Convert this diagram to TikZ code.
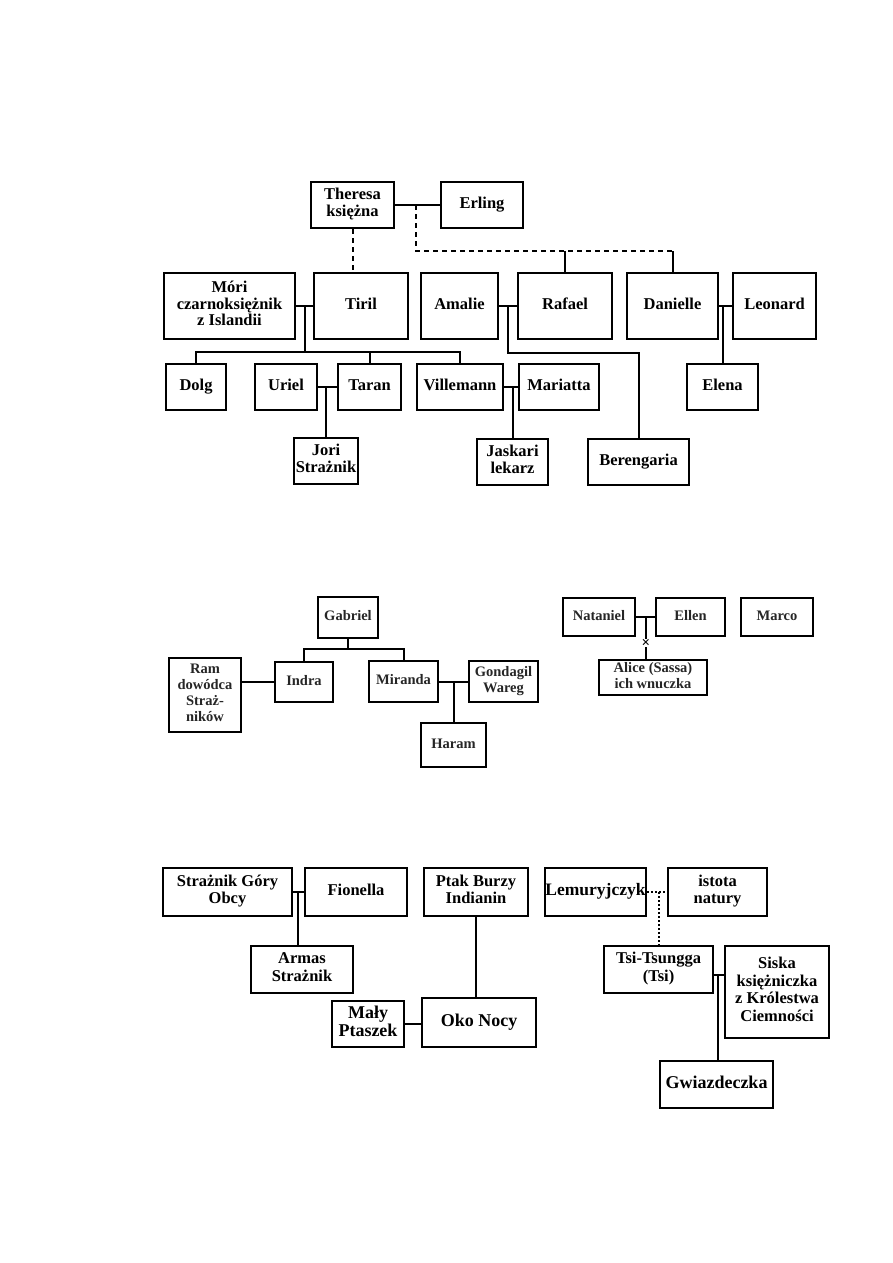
\documentclass[tikz,border=0pt]{standalone}
\usepackage{fontspec}
\setmainfont{Liberation Serif}
\usepackage{tikz}
\usetikzlibrary{positioning,calc}
\tikzstyle{osoba}  = [rectangle, draw, line width=2.1pt, align=center, inner sep=1pt,
                      execute at begin node=\strut, execute at end node=\strut,
                      font=\bfseries\fontsize{16.5}{16.7}\selectfont]
\tikzstyle{osobaM} = [osoba, text=black!85, font=\bfseries\fontsize{14.5}{16}\selectfont]
\tikzstyle{osobaB} = [osoba, font=\bfseries\fontsize{16.5}{17.5}\selectfont]
\tikzstyle{osobaG} = [osoba, line width=2.8pt, font=\bfseries\fontsize{18}{18.5}\selectfont]
\tikzstyle{wiez}      = [line width=2pt]
\tikzstyle{nieslubne} = [line width=2pt, dash pattern=on 5pt off 4pt]
\tikzstyle{kropki}    = [line width=2pt, dash pattern=on 1.5pt off 2.5pt]
\tikzstyle{krzyzyk}   = [fill=white, inner sep=0pt, font=\bfseries\fontsize{15}{15}\selectfont]

\begin{document}
\begin{tikzpicture}[x=1pt, y=-1pt]
  \useasboundingbox[fill=white] (0,0) rectangle (893,1263);

  % --- top tree
  \node[osoba, minimum width=83,  minimum height=46] (theresa)    at (352.5,205) {Theresa\\księżna};
  \node[osoba, minimum width=82,  minimum height=46] (erling)     at (482,205)   {Erling};
  \node[osoba, minimum width=131, minimum height=66] (mori)       at (229.5,306) {Móri\\czarnoksiężnik\\z Islandii};
  \node[osoba, minimum width=94,  minimum height=66] (tiril)      at (361,306)   {Tiril};
  \node[osoba, minimum width=77,  minimum height=66] (amalie)     at (459.5,306) {Amalie};
  \node[osoba, minimum width=94,  minimum height=66] (rafael)     at (565,306)   {Rafael};
  \node[osoba, minimum width=91,  minimum height=66] (danielle)   at (672.5,306) {Danielle};
  \node[osoba, minimum width=83,  minimum height=66] (leonard)    at (774.5,306) {Leonard};
  \node[osoba, minimum width=60,  minimum height=46] (dolg)       at (196,387)   {Dolg};
  \node[osoba, minimum width=62,  minimum height=46] (uriel)      at (286,387)   {Uriel};
  \node[osoba, minimum width=63,  minimum height=46] (taran)      at (369.5,387) {Taran};
  \node[osoba, minimum width=86,  minimum height=46] (villemann)  at (460,387)   {Villemann};
  \node[osoba, minimum width=80,  minimum height=46] (mariatta)   at (559,387)   {Mariatta};
  \node[osoba, minimum width=71,  minimum height=46] (elena)      at (722.5,387) {Elena};
  \node[osoba, minimum width=64,  minimum height=46] (jori)       at (326,461)   {Jori\\Strażnik};
  \node[osoba, minimum width=71,  minimum height=46] (jaskari)    at (512.5,462) {Jaskari\\lekarz};
  \node[osoba, minimum width=101, minimum height=46] (berengaria) at (638.5,462) {Berengaria};

  \coordinate (te)  at (416,205);
  \coordinate (te2) at (416,251);
  \draw[wiez] (theresa) -- (erling);
  \draw[nieslubne] (te) -- (te2) -- (te2 -| danielle.north);
  \draw[wiez] (te2 -| rafael.north) -- (rafael.north);
  \draw[wiez] (te2 -| danielle.north) -- (danielle.north);
  \draw[nieslubne] (theresa.south) -- (theresa.south |- tiril.north);

  \coordinate (mt)     at (305,306);
  \coordinate (dzieci) at (305,352);
  \draw[wiez] (mori) -- (tiril);
  \draw[wiez] (mt) -- (dzieci);
  \draw[wiez] (dolg.north) -- (dolg.north |- dzieci) -- (villemann.north |- dzieci) -- (villemann.north);
  \draw[wiez] (taran.north) -- (taran.north |- dzieci);
  \draw[wiez] (uriel) -- (taran);
  \draw[wiez] (jori.north |- uriel) -- (jori.north);
  \draw[wiez] (villemann) -- (mariatta);
  \draw[wiez] (jaskari.north |- villemann) -- (jaskari.north);

  \coordinate (ar)  at (508,306);
  \coordinate (ar2) at (508,353);
  \draw[wiez] (amalie) -- (rafael);
  \draw[wiez] (ar) -- (ar2) -- (ar2 -| berengaria.north) -- (berengaria.north);
  \draw[wiez] (danielle) -- (leonard);
  \draw[wiez] (elena.north |- danielle) -- (elena.north);

  % --- middle trees
  \node[osobaM, minimum width=60,  minimum height=41] (gabriel)  at (348,617.5)   {Gabriel};
  \node[osobaM, minimum width=58,  minimum height=40] (indra)    at (304,682)     {Indra};
  \node[osobaM, minimum width=69,  minimum height=41] (miranda)  at (403.5,681.5) {Miranda};
  \node[osobaM, minimum width=72,  minimum height=74] (ram)      at (205,695)     {Ram\\dowódca\\Straż-\\ników};
  \node[osobaM, minimum width=69,  minimum height=41] (gondagil) at (503.5,681.5) {Gondagil\\Wareg};
  \node[osobaM, minimum width=65,  minimum height=44] (haram)    at (453.5,745)   {Haram};
  \node[osobaM, minimum width=72,  minimum height=38] (nataniel) at (599,617)     {Nataniel};
  \node[osobaM, minimum width=69,  minimum height=38] (ellen)    at (690.5,617)   {Ellen};
  \node[osobaM, minimum width=72,  minimum height=38] (marco)    at (777,617)     {Marco};
  \node[osobaM, minimum width=108, minimum height=35] (alice)    at (653,677.5)   {Alice (Sassa)\\ich wnuczka};

  \coordinate (gab) at (348,649);
  \draw[wiez] (gabriel.south) -- (gab);
  \draw[wiez] (indra.north) -- (indra.north |- gab) -- (miranda.north |- gab) -- (miranda.north);
  \draw[wiez] (ram.east |- indra.west) -- (indra.west);
  \draw[wiez] (miranda) -- (gondagil);
  \draw[wiez] (haram.north |- miranda) -- (haram.north);

  \coordinate (ne) at (646,617);
  \draw[wiez] (nataniel) -- (ellen);
  \draw[wiez] (ne) -- (ne |- alice.north);
  \node[krzyzyk] (x) at (646,643) {×};

  % --- bottom trees
  \node[osobaB, minimum width=129, minimum height=48] (straznik) at (227.5,892)  {Strażnik Góry\\Obcy};
  \node[osobaB, minimum width=102, minimum height=48] (fionella) at (356,892)    {Fionella};
  \node[osobaB, minimum width=102, minimum height=47] (armas)    at (302,969.5)  {Armas\\Strażnik};
  \node[osobaB, minimum width=104, minimum height=48] (ptak)     at (476,892)    {Ptak Burzy\\Indianin};
  \node[osobaG, minimum width=114, minimum height=49] (oko)      at (479,1022.5) {Oko Nocy};
  \node[osobaG, minimum width=72,  minimum height=46] (maly)     at (368,1024)   {Mały\\Ptaszek};
  \node[osobaB, minimum width=101, minimum height=48, inner sep=0pt,
        font=\bfseries\fontsize{17.5}{18}\selectfont] (lemur)    at (595.5,892)  {Lemuryjczyk};
  \node[osobaB, minimum width=99,  minimum height=48] (istota)   at (717.5,892)  {istota\\natury};
  \node[osobaB, minimum width=109, minimum height=47] (tsi)      at (658.5,969.5){Tsi-Tsungga\\(Tsi)};
  \node[osobaB, minimum width=104, minimum height=92] (siska)    at (777,992)    {Siska\\księżniczka\\z Królestwa\\Ciemności};
  \node[osobaG, minimum width=113, minimum height=47] (gwiazd)   at (716.5,1084.5) {Gwiazdeczka};

  \coordinate (sf) at (298,892);
  \draw[wiez] (straznik) -- (fionella);
  \draw[wiez] (sf) -- (sf |- armas.north);
  \draw[wiez] (ptak.south) -- (ptak.south |- oko.north);
  \draw[wiez] (maly.east) -- (maly.east -| oko.west);

  \coordinate (ts) at (718,975);
  \draw[kropki] (lemur) -- (istota);
  \draw[kropki] (tsi.north |- lemur) -- (tsi.north);
  \draw[wiez] (tsi.east |- ts) -- (siska.west |- ts);
  \draw[wiez] (ts) -- (ts |- gwiazd.north);
\end{tikzpicture}
\end{document}
